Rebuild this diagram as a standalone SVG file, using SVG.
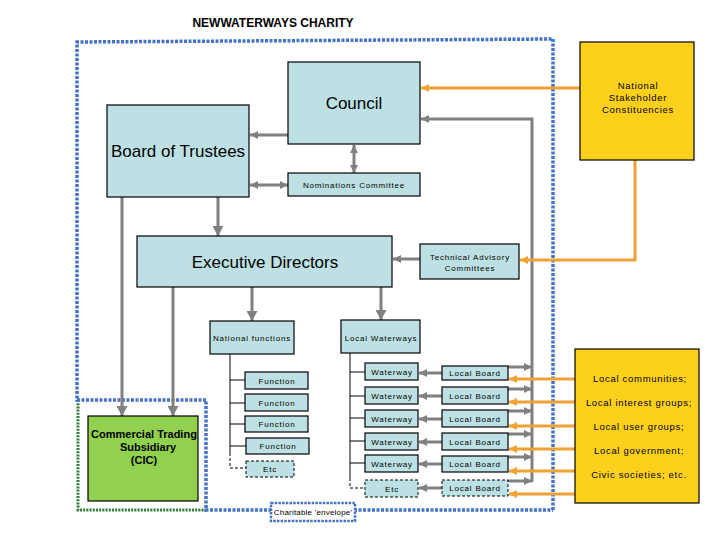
<svg xmlns="http://www.w3.org/2000/svg" width="720" height="540" viewBox="0 0 720 540">
<style>
text{font-family:"Liberation Sans",Arial,sans-serif;fill:#000}
.bx{fill:#BDE0E4;stroke:#000;stroke-width:1.2}
.dbx{fill:#BDE0E4;stroke:#000;stroke-width:1;stroke-dasharray:3 2}
.yel{fill:#FDD01C;stroke:#000;stroke-width:1.2}
.big{font-size:17px;text-anchor:middle}
.sm{font-size:8px;letter-spacing:0.8px;text-anchor:middle}
.md{font-size:9.5px;letter-spacing:0.7px;text-anchor:middle}
.g{stroke:#808080;stroke-width:3;fill:none}
.o{stroke:#EFA233;stroke-width:3;fill:none}
.t{stroke:#000;stroke-width:1;fill:none}
.td{stroke:#000;stroke-width:1;fill:none;stroke-dasharray:3 2}
</style>
<defs>
<marker id="gB" markerUnits="userSpaceOnUse" markerWidth="10" markerHeight="11" viewBox="0 0 10 11" refX="10" refY="5.5" orient="auto-start-reverse"><path d="M0,0L10,5.5L0,11z" fill="#808080"/></marker>
<marker id="gS" markerUnits="userSpaceOnUse" markerWidth="8" markerHeight="8" viewBox="0 0 8 8" refX="8" refY="4" orient="auto-start-reverse"><path d="M0,0L8,4L0,8z" fill="#808080"/></marker>
<marker id="oS" markerUnits="userSpaceOnUse" markerWidth="8" markerHeight="8" viewBox="0 0 8 8" refX="8" refY="4" orient="auto"><path d="M0,0L8,4L0,8z" fill="#EFA233"/></marker>
</defs>
<rect width="720" height="540" fill="#fff"/>
<text x="273" y="27" font-size="12px" font-weight="bold" text-anchor="middle">NEWWATERWAYS CHARITY</text>

<g id="envelopes">
<path d="M78,400 L78,510 L206,510" fill="none" stroke="#2E7D32" stroke-width="3" stroke-dasharray="2 1.2"/>
<path d="M553,510 L553,39 L77,42 L77,400 L206,400 L206,510 L553,510" fill="none" stroke="#4472C4" stroke-width="3.5" stroke-dasharray="3 1.5"/>
</g>

<g id="connectors">
<line class="g" x1="288" y1="135" x2="250" y2="135" marker-end="url(#gS)"/>
<line class="g" x1="250" y1="185" x2="288" y2="185" marker-start="url(#gS)" marker-end="url(#gS)"/>
<line class="g" x1="354" y1="145" x2="354" y2="173" marker-start="url(#gS)" marker-end="url(#gS)"/>
<line class="g" x1="218" y1="197" x2="218" y2="236" marker-end="url(#gB)"/>
<line class="g" x1="122" y1="197" x2="122" y2="416" marker-end="url(#gB)"/>
<line class="g" x1="173" y1="287" x2="173" y2="416" marker-end="url(#gB)"/>
<line class="g" x1="252" y1="287" x2="252" y2="321" marker-end="url(#gB)"/>
<line class="g" x1="381" y1="287" x2="381" y2="320" marker-end="url(#gB)"/>
<line class="g" x1="420" y1="259" x2="393" y2="259" marker-end="url(#gS)"/>
<path class="g" d="M532,482 L532,119 L421,119" marker-end="url(#gS)"/>
<line class="g" x1="508" y1="367" x2="532" y2="367" marker-end="url(#gS)"/>
<line class="g" x1="508" y1="389" x2="532" y2="389" marker-end="url(#gS)"/>
<line class="g" x1="508" y1="411" x2="532" y2="411" marker-end="url(#gS)"/>
<line class="g" x1="508" y1="434" x2="532" y2="434" marker-end="url(#gS)"/>
<line class="g" x1="508" y1="457" x2="532" y2="457" marker-end="url(#gS)"/>
<line class="g" x1="508" y1="481" x2="532" y2="481" marker-end="url(#gS)"/>
<line class="g" x1="442" y1="373" x2="419" y2="373" marker-end="url(#gS)"/>
<line class="g" x1="442" y1="396" x2="419" y2="396" marker-end="url(#gS)"/>
<line class="g" x1="442" y1="419" x2="419" y2="419" marker-end="url(#gS)"/>
<line class="g" x1="442" y1="442" x2="419" y2="442" marker-end="url(#gS)"/>
<line class="g" x1="442" y1="464" x2="419" y2="464" marker-end="url(#gS)"/>
<line class="g" x1="442" y1="488" x2="419" y2="488" marker-end="url(#gS)"/>
<line class="o" x1="580" y1="88" x2="421" y2="88" marker-end="url(#oS)"/>
<path class="o" d="M635,160 L635,260 L520,260" marker-end="url(#oS)"/>
<line class="o" x1="575" y1="379" x2="509" y2="379" marker-end="url(#oS)"/>
<line class="o" x1="575" y1="402" x2="509" y2="402" marker-end="url(#oS)"/>
<line class="o" x1="575" y1="426" x2="509" y2="426" marker-end="url(#oS)"/>
<line class="o" x1="575" y1="449" x2="509" y2="449" marker-end="url(#oS)"/>
<line class="o" x1="575" y1="471" x2="509" y2="471" marker-end="url(#oS)"/>
<line class="o" x1="575" y1="494" x2="509" y2="494" marker-end="url(#oS)"/>
<path class="t" d="M230,354 L230,453 M230,380 L245,380 M230,403 L245,403 M230,424 L245,424 M230,446 L246,446"/>
<path class="td" d="M230,453 L230,468 L246,468"/>
<path class="t" d="M350,353 L350,478 M350,372 L365,372 M350,396 L365,396 M350,418 L365,418 M350,441 L365,441 M350,463 L365,463"/>
<path class="td" d="M350,478 L350,488 L365,488"/>
</g>

<g id="council"><rect class="bx" x="288" y="62" width="132" height="82"/><text class="big" x="354" y="109">Council</text></g>
<g id="board"><rect class="bx" x="107" y="105" width="142" height="92"/><text class="big" x="178" y="157">Board of Trustees</text></g>
<g id="nominations"><rect class="bx" x="288" y="173" width="132" height="23"/><text class="sm" x="354" y="188">Nominations Committee</text></g>
<g id="executive"><rect class="bx" x="137" y="236" width="255" height="51"/><text class="big" x="265" y="268">Executive Directors</text></g>
<g id="technical"><rect class="bx" x="420" y="244" width="99" height="35"/><text class="sm" x="470" y="260">Technical Advisory</text><text class="sm" x="470" y="271">Committees</text></g>
<g id="national-stakeholders"><rect class="yel" x="580" y="42" width="114" height="118"/><text class="md" x="638" y="89">National</text><text class="md" x="638" y="101">Stakeholder</text><text class="md" x="638" y="113">Constituencies</text></g>
<g id="national-functions"><rect class="bx" x="210" y="321" width="84" height="33"/><text class="sm" x="252" y="341">National functions</text></g>
<g id="local-waterways"><rect class="bx" x="341" y="320" width="79" height="33"/><text class="sm" x="381" y="341">Local Waterways</text></g>

<g id="function-1"><rect class="bx" x="245" y="372" width="63" height="17"/><text class="sm" x="277" y="384">Function</text></g>
<g id="function-2"><rect class="bx" x="245" y="394" width="63" height="17"/><text class="sm" x="277" y="406">Function</text></g>
<g id="function-3"><rect class="bx" x="245" y="416" width="63" height="16"/><text class="sm" x="277" y="427">Function</text></g>
<g id="function-4"><rect class="bx" x="246" y="438" width="63" height="16"/><text class="sm" x="278" y="449">Function</text></g>
<g id="function-etc"><rect class="dbx" x="246" y="461" width="48" height="16"/><text class="sm" x="270" y="472">Etc</text></g>

<g id="waterway-1"><rect class="bx" x="365" y="363" width="53" height="17"/><text class="sm" x="392" y="375">Waterway</text></g>
<g id="waterway-2"><rect class="bx" x="365" y="387" width="53" height="17"/><text class="sm" x="392" y="399">Waterway</text></g>
<g id="waterway-3"><rect class="bx" x="365" y="410" width="53" height="17"/><text class="sm" x="392" y="422">Waterway</text></g>
<g id="waterway-4"><rect class="bx" x="365" y="433" width="53" height="17"/><text class="sm" x="392" y="445">Waterway</text></g>
<g id="waterway-5"><rect class="bx" x="365" y="455" width="53" height="17"/><text class="sm" x="392" y="467">Waterway</text></g>
<g id="waterway-etc"><rect class="dbx" x="365" y="480" width="53" height="17"/><text class="sm" x="392" y="492">Etc</text></g>

<g id="local-board-1"><rect class="bx" x="442" y="366" width="66" height="14"/><text class="sm" x="475" y="376">Local Board</text></g>
<g id="local-board-2"><rect class="bx" x="442" y="387" width="66" height="17"/><text class="sm" x="475" y="399">Local Board</text></g>
<g id="local-board-3"><rect class="bx" x="442" y="410" width="66" height="17"/><text class="sm" x="475" y="422">Local Board</text></g>
<g id="local-board-4"><rect class="bx" x="442" y="433" width="66" height="17"/><text class="sm" x="475" y="445">Local Board</text></g>
<g id="local-board-5"><rect class="bx" x="442" y="456" width="66" height="16"/><text class="sm" x="475" y="467">Local Board</text></g>
<g id="local-board-6"><rect class="dbx" x="442" y="480" width="66" height="16"/><text class="sm" x="475" y="491">Local Board</text></g>

<g id="local-stakeholders"><rect class="yel" x="575" y="349" width="124" height="154"/>
<text class="md" x="640" y="382">Local communities;</text>
<text class="md" x="639" y="406">Local interest groups;</text>
<text class="md" x="639" y="430">Local user groups;</text>
<text class="md" x="639" y="454">Local government;</text>
<text class="md" x="639" y="478">Civic societies; etc.</text></g>

<g id="cic"><rect x="88" y="416" width="110" height="85" fill="#92D050" stroke="#000" stroke-width="1.2"/>
<text x="144" y="438" font-size="11px" font-weight="bold" text-anchor="middle">Commercial Trading</text>
<text x="148" y="451" font-size="11px" font-weight="bold" text-anchor="middle">Subsidiary</text>
<text x="144" y="464" font-size="11px" font-weight="bold" text-anchor="middle">(CIC)</text></g>

<g id="charitable-label"><rect x="271" y="503" width="84" height="18" fill="#fff" stroke="#4472C4" stroke-width="2.5" stroke-dasharray="2.5 1.2"/><text x="313" y="515" font-size="8px" letter-spacing="0.2px" text-anchor="middle">Charitable 'envelope'</text></g>
</svg>
